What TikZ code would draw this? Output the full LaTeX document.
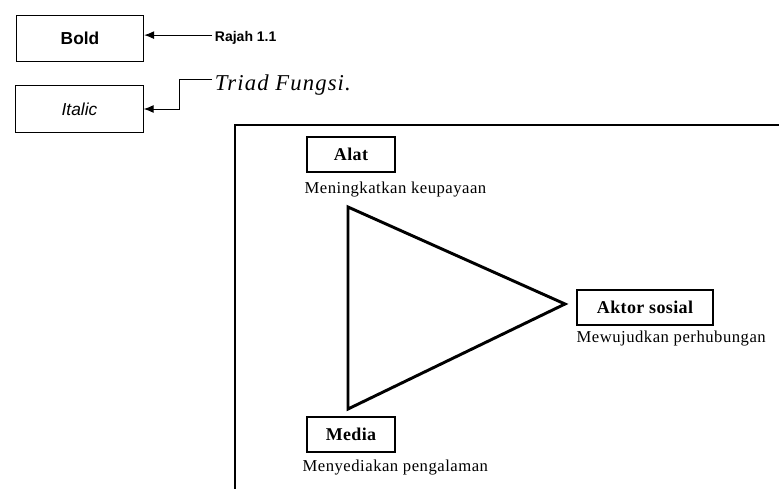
\documentclass[tikz,border=0pt]{standalone}
\usepackage{fontspec}
\usetikzlibrary{arrows.meta}
\setmainfont{Liberation Serif}
\newfontfamily\arialfont{Liberation Sans}
\newfontfamily\rolefont{Liberation Serif}[LetterSpace=2]
\newfontfamily\notefont{Liberation Serif}[LetterSpace=3]
\newfontfamily\triadfont{Liberation Serif}[LetterSpace=5]

\begin{document}
\begin{tikzpicture}[x=0.75pt,y=-0.75pt]

% Styles
\tikzset{
  key box/.style={draw, line width=0.75pt, minimum width=95.5pt, minimum height=35pt, inner sep=0pt},
  role box/.style={draw, line width=1.5pt, minimum height=26pt, inner sep=0pt,
    font=\rolefont\bfseries\fontsize{13.5}{15}\selectfont},
  role note/.style={anchor=west, inner sep=1pt, font=\notefont\fontsize{12.5}{14}\selectfont},
  key arrow/.style={line width=0.75pt, -{Latex[length=7.5pt,width=6pt]}}
}

\useasboundingbox (0,0) rectangle (779,489);
\clip (0,0) rectangle (779,489);

% Key
\node[key box, font=\arialfont\bfseries\fontsize{13}{15}\selectfont] (bold) at (80,38.5) {Bold};
\node[key box, font=\arialfont\itshape\fontsize{13}{15}\selectfont] (italic) at (79.5,109) {Italic};
\node[anchor=west, inner sep=2pt, font=\arialfont\bfseries\fontsize{10.5}{12}\selectfont] (rajah) at (212,37.5) {Rajah 1.1};
\node[anchor=west, inner sep=2pt, font=\triadfont\itshape\fontsize{17}{20}\selectfont] (triad) at (212,85) {Triad Fungsi.};

\draw[key arrow] ([yshift=1.8pt]rajah.west) -- ([yshift=1.8pt]rajah.west -| bold.east);
\draw[key arrow] ([yshift=4.5pt]triad.west) -- ++(-33,0) |- (italic.east);

% Frame
\draw[line width=1.1pt] (235,500) |- (800,125);

% Triangle
\coordinate (tipalat) at (348,207);
\coordinate (tipaktor) at (565,304);
\coordinate (tipmedia) at (348,409);
\draw[line width=2.2pt, line join=miter] (tipalat) -- (tipaktor) -- (tipmedia) -- cycle;

% Roles
\node[role box, minimum width=66pt] (alat) at (351,154.5) {Alat};
\node[role note] (alatnote) at (303,190) {Meningkatkan keupayaan};
\node[role box, minimum width=102pt] (aktor) at (645,307.5) {Aktor sosial};
\node[role note] (aktornote) at (575,339) {Mewujudkan perhubungan};
\node[role box, minimum width=66pt] (media) at (351,434.5) {Media};
\node[role note] (medianote) at (301,468) {Menyediakan pengalaman};

\end{tikzpicture}
\end{document}
